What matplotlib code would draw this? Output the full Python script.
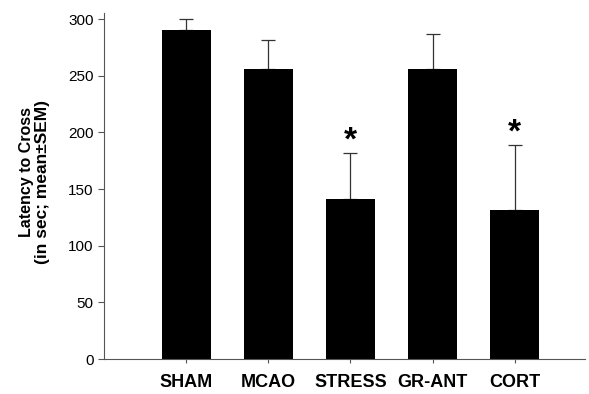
import matplotlib
matplotlib.use("Agg")
import matplotlib.pyplot as plt

groups = ["SHAM", "MCAO", "STRESS", "GR-ANT", "CORT"]
latency = [290.5, 255.7, 141.5, 255.7, 131.5]
sem = [9.5, 26.1, 40.5, 30.8, 57.1]
significant = [False, False, True, False, True]

plt.rcParams['font.family'] = ['Liberation Sans', 'DejaVu Sans']

fig = plt.figure(figsize=(5.89, 3.94), dpi=100)
ax = fig.add_axes([0.1766, 0.0888, 0.816, 0.877])

x = list(range(len(groups)))
ax.bar(x, latency, width=0.6, color='black', zorder=2)
ax.errorbar(x, latency, yerr=[[0] * len(sem), sem], fmt='none',
            ecolor='#333333', elinewidth=0.9, capsize=5, capthick=0.9, zorder=1)

for xi, m, s, sig in zip(x, latency, sem, significant):
    if sig:
        ax.text(xi, m + s - 3, '*', ha='center', va='bottom',
                fontsize=24, fontweight='bold')

ax.set_xlim(-1.0, 4.85)
ax.set_ylim(0, 305)
ax.set_yticks([0, 50, 100, 150, 200, 250, 300])
ax.set_xticks(x)
ax.set_xticklabels(groups, fontweight='bold', fontsize=13)
ax.tick_params(axis='y', labelsize=11, length=4, width=0.8, color='#555555')
ax.tick_params(axis='x', length=3, width=0.8, color='#555555', pad=8)

for side in ['top', 'right']:
    ax.spines[side].set_visible(False)
for side in ['left', 'bottom']:
    ax.spines[side].set_color('#555555')
    ax.spines[side].set_linewidth(0.8)

# y label as two texts: the second line is set wider in the original
fig.text(26 / 589, 1 - 172 / 394, 'Latency to Cross', rotation=90,
         ha='center', va='center', fontweight='bold', fontsize=11.5)
fig.text(43 / 589, 1 - 182 / 394, '(in sec; mean\u00b1SEM)', rotation=90,
         ha='center', va='center', fontweight='bold', fontsize=12.5)

fig.savefig('out.png', dpi=100)
